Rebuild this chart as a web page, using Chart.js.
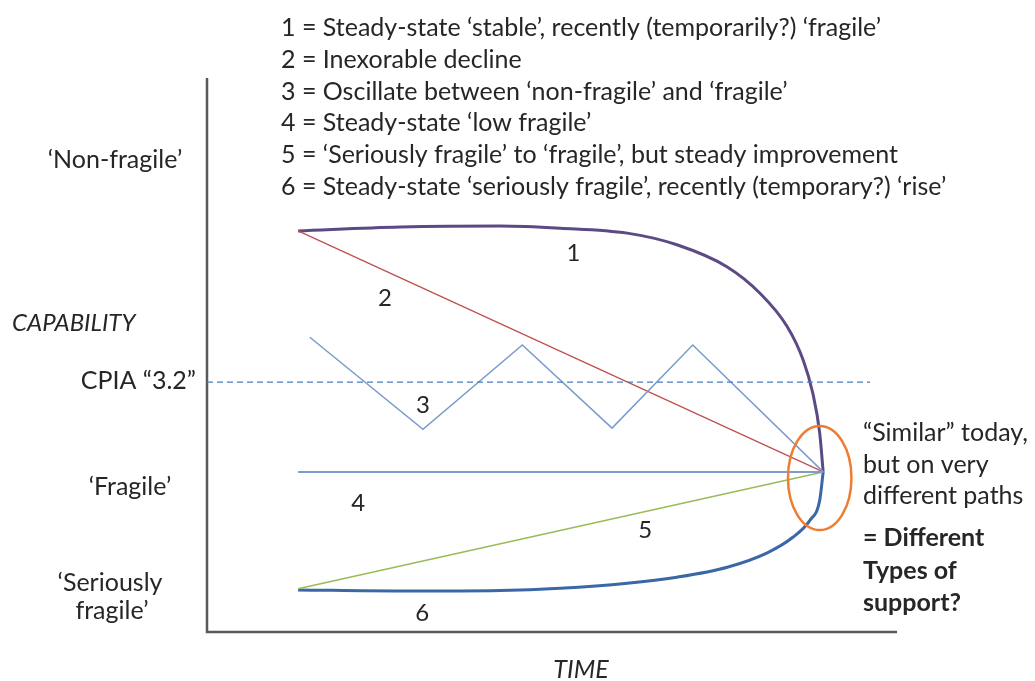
<!DOCTYPE html>
<html>
<head>
<meta charset="utf-8">
<script src="https://cdn.jsdelivr.net/npm/chart.js@4.4.0/dist/chart.umd.min.js"></script>
<style>
    html, body { margin: 0; padding: 0; background: #fff; }
    #wrap { width: 1035px; height: 681px; }
</style>
</head>
<body>
<div id="wrap"><canvas id="pathsChart" width="1035" height="681"></canvas></div>
<script>
// time runs 0..100 along the x axis, capability 0..100 up the y axis
const path1Time = [13.2, 28.0, 42.5, 51.2, 60.9, 68.1, 75.4, 80.1, 84.1, 86.4, 87.8, 88.8, 89.3];
const path1Cap  = [72.4, 73.1, 73.3, 72.9, 72.0, 69.9, 65.9, 61.2, 55.1, 49.1, 43.1, 35.9, 28.9];

const path2Time = [13.2, 89.3];
const path2Cap  = [72.4, 28.9];

const path3Time = [14.9, 31.3, 45.7, 58.7, 70.4, 89.3];
const path3Cap  = [53.2, 36.6, 51.8, 36.8, 51.8, 28.9];

const path4Time = [13.2, 89.3];
const path4Cap  = [28.9, 28.9];

const path5Time = [13.2, 89.3];
const path5Cap  = [7.8, 28.9];

const path6Time = [13.2, 28.0, 42.5, 51.2, 60.9, 68.1, 75.4, 81.2, 84.9, 87.4, 88.8, 89.3];
const path6Cap  = [7.6, 7.4, 7.5, 7.9, 8.8, 9.9, 11.7, 14.3, 17.1, 20.2, 23.8, 28.9];

const cpiaTime = [0, 96.1];
const cpiaCap  = [45.1, 45.1];

// path numbers placed beside each line
const pathLabels = ['1', '2', '3', '4', '5', '6'];
const pathLabelTime = [53.1, 25.8, 31.3, 21.9, 63.5, 31.2];
const pathLabelCap  = [68.4, 60.3, 41.0, 23.3, 18.4, 3.4];

const legendLines = [
    '1 = Steady-state \u2018stable\u2019, recently (temporarily?) \u2018fragile\u2019',
    '2 = Inexorable decline',
    '3 = Oscillate between \u2018non-fragile\u2019 and \u2018fragile\u2019',
    '4 = Steady-state \u2018low fragile\u2019',
    '5 = \u2018Seriously fragile\u2019 to \u2018fragile\u2019, but steady improvement',
    '6 = Steady-state \u2018seriously fragile\u2019, recently (temporary?) \u2018rise\u2019'
];

// the "similar today" ring round the meeting point
const ringTime = 88.8, ringCap = 27.8, ringHalfTime = 4.6, ringHalfCap = 9.4;

function toPoints(xs, ys) {
    return xs.map((x, i) => ({ x: x, y: ys[i] }));
}

const FONT = 'Lato, "Open Sans", sans-serif';

const extrasPlugin = {
    id: 'extras',
    beforeDatasetsDraw(chart) {
        const ctx = chart.ctx;
        const a = chart.chartArea;
        ctx.save();
        ctx.strokeStyle = '#595959';
        ctx.lineWidth = 2.5;
        ctx.beginPath();
        ctx.moveTo(a.left, a.top);
        ctx.lineTo(a.left, a.bottom);
        ctx.lineTo(a.right, a.bottom);
        ctx.stroke();
        ctx.restore();
    },
    afterDatasetsDraw(chart) {
        const ctx = chart.ctx;
        const xs = chart.scales.x, ys = chart.scales.y;
        ctx.save();

        // orange ring
        const cx = xs.getPixelForValue(ringTime), cy = ys.getPixelForValue(ringCap);
        const rx = xs.getPixelForValue(ringTime + ringHalfTime) - cx;
        const ry = cy - ys.getPixelForValue(ringCap + ringHalfCap);
        ctx.strokeStyle = '#ed7d31';
        ctx.lineWidth = 2.5;
        ctx.beginPath();
        ctx.ellipse(cx, cy, rx, ry, 0, 0, Math.PI * 2);
        ctx.stroke();

        ctx.fillStyle = '#262626';
        ctx.textBaseline = 'middle';

        // path numbers
        ctx.font = '24px ' + FONT;
        ctx.textAlign = 'center';
        pathLabels.forEach((t, i) => {
            ctx.fillText(t, xs.getPixelForValue(pathLabelTime[i]), ys.getPixelForValue(pathLabelCap[i]));
        });

        // legend block at the top
        ctx.font = '25px ' + FONT;
        ctx.textAlign = 'left';
        const legendY = [28, 60, 92, 123, 155, 187];
        legendLines.forEach((t, i) => ctx.fillText(t, 281, legendY[i]));

        // capability levels on the left
        ctx.textAlign = 'center';
        ctx.fillText('\u2018Non-fragile\u2019', 115, 160);
        ctx.fillText('\u2018Fragile\u2019', 130, 487);
        ctx.fillText('\u2018Seriously', 110, 583);
        ctx.fillText('fragile\u2019', 112, 611);
        ctx.textAlign = 'right';
        ctx.fillText('CPIA \u201c3.2\u201d', 196, 381);
        ctx.textAlign = 'left';
        ctx.font = 'italic 24px ' + FONT;
        ctx.fillText('CAPABILITY', 12, 323);
        ctx.textAlign = 'center';
        ctx.font = 'italic 25px ' + FONT;
        ctx.fillText('TIME', 581, 670);

        // note on the right
        ctx.textAlign = 'left';
        ctx.font = '25px ' + FONT;
        ctx.fillText('\u201cSimilar\u201d today,', 863, 433);
        ctx.fillText('but on very', 863, 465);
        ctx.fillText('different paths', 863, 496);
        ctx.font = 'bold 25px ' + FONT;
        ctx.fillText('= Different', 863, 538);
        ctx.fillText('Types of', 863, 571);
        ctx.fillText('support?', 863, 603);

        ctx.restore();
    }
};

const ctx = document.getElementById('pathsChart');
new Chart(ctx, {
    type: 'scatter',
    data: {
        datasets: [
            {
                label: 'CPIA 3.2',
                data: toPoints(cpiaTime, cpiaCap),
                borderColor: '#4a7ebb',
                borderWidth: 1.3,
                borderDash: [6, 4],
                showLine: true
            },
            {
                label: '4',
                data: toPoints(path4Time, path4Cap),
                borderColor: '#7f9bcb',
                borderWidth: 2,
                showLine: true
            },
            {
                label: '5',
                data: toPoints(path5Time, path5Cap),
                borderColor: '#9bbb59',
                borderWidth: 1.5,
                showLine: true
            },
            {
                label: '3',
                data: toPoints(path3Time, path3Cap),
                borderColor: '#7a9bcb',
                borderWidth: 1.5,
                showLine: true
            },
            {
                label: '2',
                data: toPoints(path2Time, path2Cap),
                borderColor: '#c0504d',
                borderWidth: 1.3,
                showLine: true
            },
            {
                label: '1',
                data: toPoints(path1Time, path1Cap),
                borderColor: '#5c4a85',
                borderWidth: 3,
                showLine: true,
                cubicInterpolationMode: 'monotone'
            },
            {
                label: '6',
                data: toPoints(path6Time, path6Cap),
                borderColor: '#3a67a6',
                borderWidth: 3,
                showLine: true,
                cubicInterpolationMode: 'monotone'
            }
        ]
    },
    options: {
        responsive: false,
        animation: false,
        devicePixelRatio: 1,
        layout: { padding: { left: 207, top: 78, right: 138, bottom: 49 } },
        elements: { point: { radius: 0, hoverRadius: 0 } },
        plugins: {
            legend: { display: false },
            tooltip: { enabled: false }
        },
        scales: {
            x: { type: 'linear', min: 0, max: 100, display: false },
            y: { type: 'linear', min: 0, max: 100, display: false }
        }
    },
    plugins: [extrasPlugin]
});
</script>
</body>
</html>
